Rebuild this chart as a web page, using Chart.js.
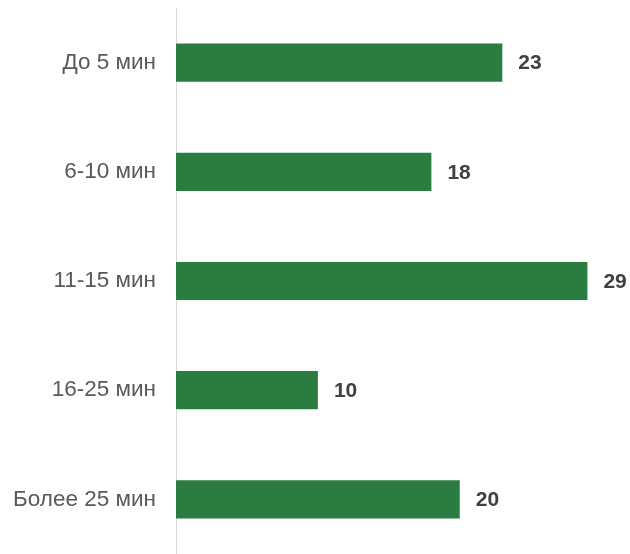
<!DOCTYPE html>
<html>
<head>
<meta charset="utf-8">
<script src="https://cdn.jsdelivr.net/npm/chart.js@4"></script>
<style>
  html, body { margin: 0; padding: 0; background: #fff; }
  #wrap { width: 630px; height: 554px; }
</style>
</head>
<body>
<div id="wrap"><canvas id="myChart"></canvas></div>
<script>
const categories = ['До 5 мин', '6-10 мин', '11-15 мин', '16-25 мин', 'Более 25 мин'];
const values = [23, 18, 29, 10, 20];

// draws the number to the right of each bar
const valueLabels = {
  id: 'valueLabels',
  afterDatasetsDraw(chart) {
    const ctx = chart.ctx;
    const meta = chart.getDatasetMeta(0);
    ctx.save();
    ctx.font = 'bold 21px "Liberation Sans", Arial, sans-serif';
    ctx.fillStyle = '#404040';
    ctx.textAlign = 'left';
    ctx.textBaseline = 'middle';
    meta.data.forEach((bar, i) => {
      ctx.fillText(values[i], bar.x + 16, bar.y + 1);
    });
    ctx.restore();
  }
};

const ctx = document.getElementById('myChart').getContext('2d');
const chart = new Chart(ctx, {
  type: 'bar',
  data: {
    labels: categories,
    datasets: [{
      data: values,
      backgroundColor: '#2a7c41',
      borderWidth: 0,
      barPercentage: 0.35,
      categoryPercentage: 1
    }]
  },
  options: {
    indexAxis: 'y',
    responsive: true,
    maintainAspectRatio: false,
    animation: false,
    layout: { padding: { top: 8, left: 0, right: 0, bottom: -3 } },
    plugins: {
      legend: { display: false },
      tooltip: { enabled: false }
    },
    scales: {
      x: {
        display: false,
        min: 0,
        max: 32
      },
      y: {
        afterFit(scale) {
          scale.width = 176;
          scale.paddingTop = 0;
          scale.paddingBottom = 0;
        },
        grid: { display: false, drawTicks: false },
        border: { display: true, color: '#d9d9d9', width: 1 },
        ticks: {
          padding: 20,
          color: '#595959',
          font: { family: '"Liberation Sans", Arial, sans-serif', size: 22.5 }
        }
      }
    }
  },
  plugins: [valueLabels]
});
</script>
</body>
</html>
